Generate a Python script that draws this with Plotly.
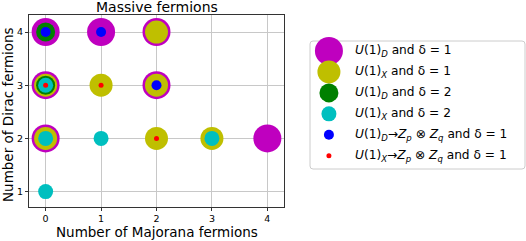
import plotly.graph_objects as go

W, H = 526, 241

# ---- data ----
series_names = [
    "<i>U</i>(1)<sub><i>D</i></sub> and δ = 1",
    "<i>U</i>(1)<sub><i>X</i></sub> and δ = 1",
    "<i>U</i>(1)<sub><i>D</i></sub> and δ = 2",
    "<i>U</i>(1)<sub><i>X</i></sub> and δ = 2",
    "<i>U</i>(1)<sub><i>D</i></sub>→<i>Z</i><sub><i>p</i></sub> ⊗ <i>Z</i><sub><i>q</i></sub> and δ = 1",
    "<i>U</i>(1)<sub><i>X</i></sub>→<i>Z</i><sub><i>p</i></sub> ⊗ <i>Z</i><sub><i>q</i></sub> and δ = 1",
]
majorana_UD1 = [0, 1, 2, 0, 2, 0, 4]
dirac_UD1 = [4, 4, 4, 3, 3, 2, 2]
majorana_UX1 = [2, 0, 1, 2, 0, 2, 3]
dirac_UX1 = [4, 3, 3, 3, 2, 2, 2]
majorana_UD2 = [0, 0]
dirac_UD2 = [4, 3]
majorana_UX2 = [0, 0, 1, 3, 0]
dirac_UX2 = [3, 2, 2, 2, 1]
majorana_ZD = [0, 1, 2]
dirac_ZD = [4, 4, 3]
majorana_ZX = [0, 1, 2]
dirac_ZX = [3, 3, 2]
x_ticks = [0, 1, 2, 3, 4]
y_ticks = [1, 2, 3, 4]
title_text = "Massive fermions"
x_title = "Number of Majorana fermions"
y_title = "Number of Dirac fermions"

colors = ["#bf00bf", "#bfbf00", "#008000", "#00bfbf", "#0000ff", "#ff0000"]
sizes = [28, 23, 19, 15, 10, 5]
xs = [majorana_UD1, majorana_UX1, majorana_UD2, majorana_UX2, majorana_ZD, majorana_ZX]
ys = [dirac_UD1, dirac_UX1, dirac_UD2, dirac_UX2, dirac_ZD, dirac_ZX]

FONT = "DejaVu Sans"

# plot area in pixels
pl, pr, pt, pb = 29, 284, 15, 207
# legend box in pixels
ll, lr, lt, lb = 310, 525, 41, 169

def px(x):
    return x / W

def py(y):
    return 1 - y / H

fig = go.Figure()
for i in range(6):
    fig.add_trace(go.Scatter(
        x=xs[i], y=ys[i], mode="markers", name=series_names[i],
        marker=dict(color=colors[i], size=sizes[i], line=dict(width=0)),
        showlegend=False, cliponaxis=True, xaxis="x", yaxis="y",
    ))

# manual legend (markers on an invisible helper axis)
for i in range(6):
    fig.add_trace(go.Scatter(
        x=[0.088], y=[i], mode="markers",
        marker=dict(color=colors[i], size=sizes[i], line=dict(width=0)),
        showlegend=False, xaxis="x2", yaxis="y2", cliponaxis=False, hoverinfo="skip",
    ))
    fig.add_annotation(
        x=0.2, y=i, xref="x2", yref="y2", text=series_names[i],
        showarrow=False, xanchor="left", yanchor="middle",
        font=dict(family=FONT, size=12.2, color="black"),
    )

# titles as annotations
fig.add_annotation(x=px((pl + pr) / 2), y=py(7), xref="paper", yref="paper",
                   text=title_text, showarrow=False, xanchor="center", yanchor="middle",
                   font=dict(family=FONT, size=14, color="black"))
fig.add_annotation(x=px((pl + pr) / 2), y=py(232), xref="paper", yref="paper",
                   text=x_title, showarrow=False, xanchor="center", yanchor="middle",
                   font=dict(family=FONT, size=13.5, color="black"))
fig.add_annotation(x=px(8), y=py((pt + pb) / 2 + 4), xref="paper", yref="paper",
                   text=y_title, showarrow=False, xanchor="center", yanchor="middle",
                   textangle=-90, font=dict(family=FONT, size=13.5, color="black"))

# rounded legend frame
r = 3
path = (
    f"M {px(ll + r)} {py(lt)} L {px(lr - r)} {py(lt)} Q {px(lr)} {py(lt)} {px(lr)} {py(lt + r)} "
    f"L {px(lr)} {py(lb - r)} Q {px(lr)} {py(lb)} {px(lr - r)} {py(lb)} "
    f"L {px(ll + r)} {py(lb)} Q {px(ll)} {py(lb)} {px(ll)} {py(lb - r)} "
    f"L {px(ll)} {py(lt + r)} Q {px(ll)} {py(lt)} {px(ll + r)} {py(lt)} Z"
)
fig.add_shape(type="path", path=path, xref="paper", yref="paper",
              line=dict(color="#cccccc", width=1), fillcolor="white", layer="below")

fig.update_layout(
    width=W, height=H,
    margin=dict(l=0, r=0, t=0, b=0),
    paper_bgcolor="white", plot_bgcolor="white",
    font=dict(family=FONT, color="black"),
    showlegend=False,
    xaxis=dict(
        domain=[px(pl), px(pr)], range=[-0.3, 4.3], tickvals=x_ticks,
        ticks="outside", ticklen=3, tickcolor="#333", tickfont=dict(size=9.5),
        showgrid=True, gridcolor="#c8c8c8", gridwidth=1, zeroline=False,
        showline=True, linecolor="#333", linewidth=1, mirror=True,
        anchor="y",
    ),
    yaxis=dict(
        domain=[py(pb), py(pt)], range=[0.71, 4.32], tickvals=y_ticks,
        ticks="outside", ticklen=3, tickcolor="#333", tickfont=dict(size=9.5),
        showgrid=True, gridcolor="#c8c8c8", gridwidth=1, zeroline=False,
        showline=True, linecolor="#333", linewidth=1, mirror=True,
        anchor="x",
    ),
    xaxis2=dict(domain=[px(ll), px(lr)], range=[0, 1], visible=False, anchor="y2"),
    yaxis2=dict(domain=[py(lb), py(lt)], range=[5.635, -0.478], visible=False, anchor="x2"),
)

fig.write_html("out.html", config={"displayModeBar": False},
               post_script="document.body.style.margin='0';")
